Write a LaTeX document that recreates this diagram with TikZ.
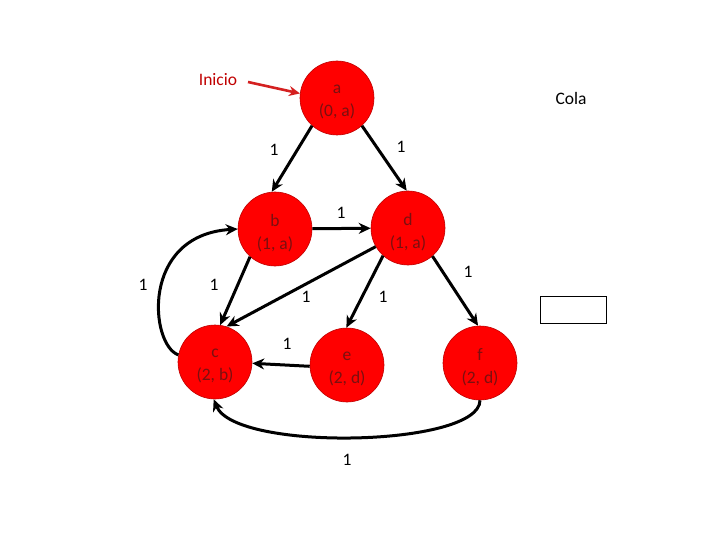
\documentclass[tikz,border=0pt]{standalone}
\usepackage{fontspec}
\setmainfont{Carlito}
\usetikzlibrary{arrows.meta}
\definecolor{nodetext}{HTML}{7A1010}
\definecolor{inicio}{HTML}{C00000}
\definecolor{iniarrow}{HTML}{D42020}
\begin{document}
\begin{tikzpicture}[x=1pt,y=-1pt,
  vert/.style={circle,fill=red,draw=red!75!black,line width=0.6pt,minimum size=74pt,inner sep=0pt},
  vtext/.style={text=nodetext,font=\fontsize{17.5}{23}\selectfont,align=center,yshift=-4pt,inner sep=0pt},
  edge/.style={-{Stealth[length=12pt,width=11pt]},line width=3pt,black},
  wlab/.style={font=\fontsize{17.5}{20}\selectfont,text=black}]
\useasboundingbox (0,0) rectangle (720,540);
\node[vert,label={[vtext]center:a\\(0, a)}] (a) at (337,98) {};
\node[vert,label={[vtext]center:b\\(1, a)}] (b) at (275,229) {};
\node[vert,label={[vtext]center:d\\(1, a)}] (d) at (408,228) {};
\node[vert,label={[vtext]center:c\\(2, b)}] (c) at (215,362) {};
\node[vert,label={[vtext]center:e\\(2, d)}] (e) at (347,365) {};
\node[vert,label={[vtext]center:f\\(2, d)}] (f) at (480,363) {};
\draw[edge] (a.228) -- (b.95);
\draw[edge] (a.312) -- (d.92);
\draw[edge] (b) -- (d);
\draw[edge] (b.228) -- (c.82);
\draw[edge] (d.210) -- (c.72);
\draw[edge] (d.228) -- (e.91);
\draw[edge] (d.311) -- (f.93);
\draw[edge] (e.182) -- (c.358);
\draw[edge] (c.169) .. controls (150,345) and (140,235) .. (b.180);
\draw[edge] (f.270) .. controls (480,447) and (235,452) .. (c.268);
\node[wlab] (l1) at (274,150) {1};
\node[wlab] (l2) at (401,147) {1};
\node[wlab] (l3) at (341,213) {1};
\node[wlab] (l4) at (214,285) {1};
\node[wlab] (l5) at (306,297) {1};
\node[wlab] (l6) at (383,297) {1};
\node[wlab] (l7) at (468,272) {1};
\node[wlab] (l8) at (287,344) {1};
\node[wlab] (l9) at (143,285) {1};
\node[wlab] (l10) at (347,460) {1};
\node[font=\fontsize{17.5}{20}\selectfont,text=inicio] (ini) at (218,80) {Inicio};
\coordinate (ini0) at (248,82);
\draw[-{Stealth[length=11pt,width=10pt]},line width=2.6pt,iniarrow] (ini0) -- (a.173);
\node[font=\fontsize{17.5}{20}\selectfont] (cola) at (571,98) {Cola};
\node[draw=black,line width=0.8pt,minimum width=66pt,minimum height=27pt,inner sep=0pt] (box) at (573,309.5) {};
\end{tikzpicture}
\end{document}
